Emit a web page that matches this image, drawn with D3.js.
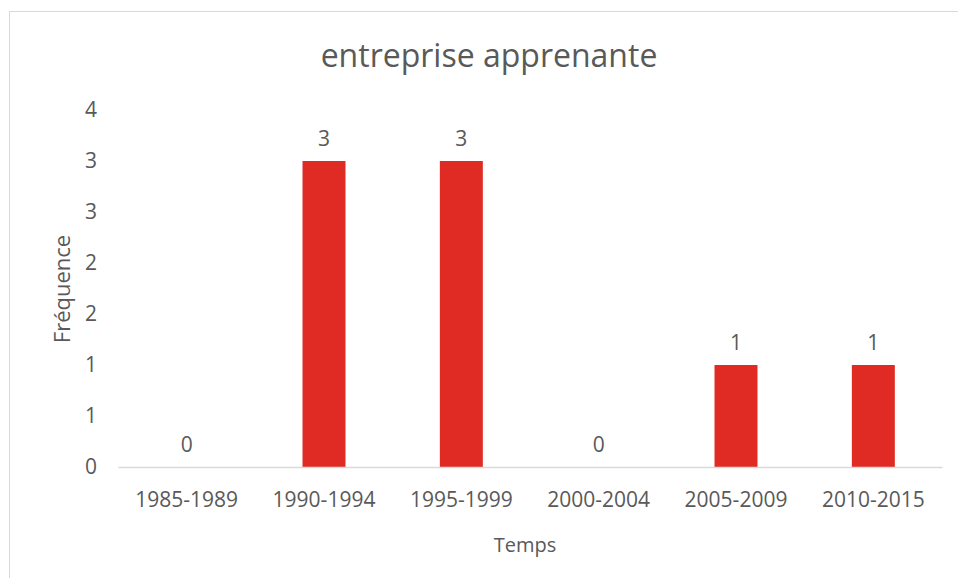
<!DOCTYPE html>
<html><head><meta charset="utf-8">
<script src="https://cdn.jsdelivr.net/npm/d3@7"></script>
<style>body{margin:0;background:#fff}svg{display:block}</style>
</head><body>
<script>
const categories = ["1985-1989","1990-1994","1995-1999","2000-2004","2005-2009","2010-2015"];
const values = [0,3,3,0,1,1];
const tickValues = [0,0.5,1,1.5,2,2.5,3,3.5];
const tickLabels = ["0","1","1","2","2","3","3","4"];
const title = "entreprise apprenante";
const xTitle = "Temps";
const yTitle = "Fréquence";

const W=958,H=578;
const font = "'Open Sans', 'Noto Sans', sans-serif";
const txt = "#595959";
const svg = d3.select("body").append("svg").attr("width",W).attr("height",H);
svg.append("rect").attr("x",9.5).attr("y",11.5).attr("width",W).attr("height",H).attr("fill","#fff").attr("stroke","#d9d9d9");

const x = d3.scaleBand().domain(categories).range([118,942]).paddingInner(0.687).paddingOuter(0.3435);
const y = d3.scaleLinear().domain([0,3.5]).range([467,110]);

svg.append("text").attr("x",489).attr("y",67).attr("text-anchor","middle")
  .attr("font-family",font).attr("font-size",32).attr("fill",txt).text(title);

const ya = svg.append("g").attr("transform","translate(118,0)")
  .call(d3.axisLeft(y).tickValues(tickValues).tickFormat((d,i)=>tickLabels[i]).tickSize(0).tickPadding(21));
ya.select(".domain").remove();
ya.selectAll("text").attr("font-family",font).attr("font-size",21).attr("fill",txt);

const bars = svg.append("g");
bars.selectAll("rect").data(values).join("rect")
  .attr("x",(d,i)=>x(categories[i])).attr("width",x.bandwidth())
  .attr("y",d=>y(d)).attr("height",d=>y(0)-y(d)).attr("fill","#E02B25");

svg.append("g").selectAll("text").data(values).join("text")
  .attr("x",(d,i)=>x(categories[i])+x.bandwidth()/2).attr("y",d=>y(d)-15)
  .attr("text-anchor","middle").attr("font-family",font).attr("font-size",21).attr("fill",txt)
  .text(d=>d);

const xa = svg.append("g").attr("transform","translate(0,467)")
  .call(d3.axisBottom(x).tickSize(0).tickPadding(0));
xa.select(".domain").attr("stroke","#d9d9d9").attr("stroke-width",1.5);
xa.selectAll("text").attr("font-family",font).attr("font-size",21).attr("fill",txt)
  .attr("dy",null).attr("y",40);

svg.append("text").attr("x",525).attr("y",552).attr("text-anchor","middle")
  .attr("font-family",font).attr("font-size",20).attr("fill",txt).text(xTitle);
svg.append("text").attr("transform","translate(70,289) rotate(-90)").attr("text-anchor","middle")
  .attr("font-family",font).attr("font-size",22).attr("fill",txt).text(yTitle);
</script>
</body></html>
